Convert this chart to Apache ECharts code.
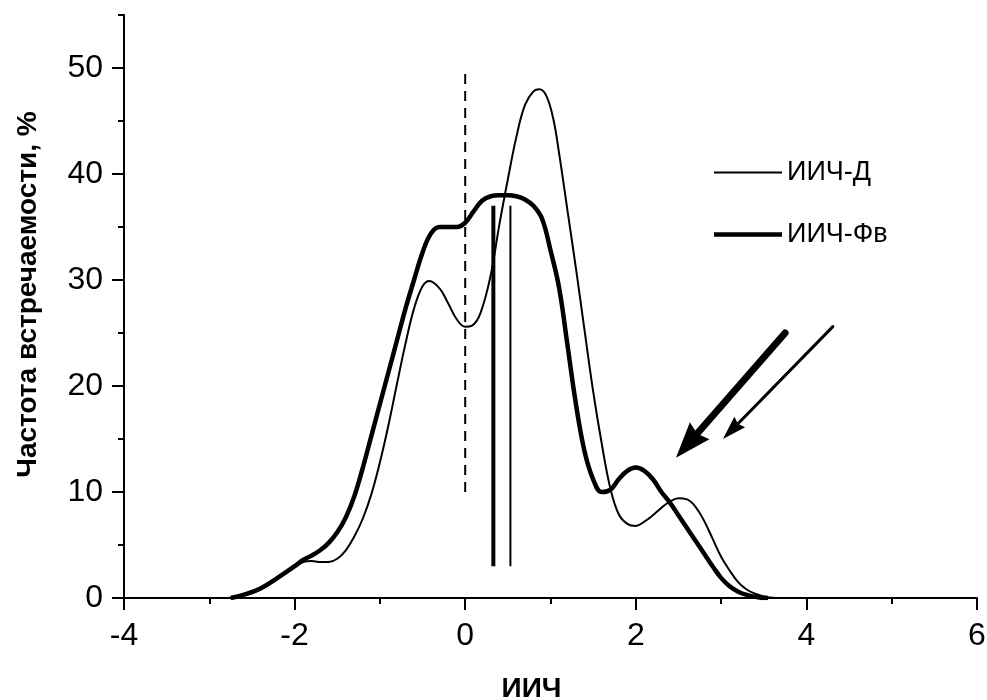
<!DOCTYPE html>
<html>
<head>
<meta charset="utf-8">
<script src="https://cdn.jsdelivr.net/npm/echarts@6/dist/echarts.min.js"></script>
<style>
  html, body { margin: 0; padding: 0; background: #fff; }
  #main { width: 987px; height: 700px; }
</style>
</head>
<body>
<div id="main"></div>
<script>
// ИИЧ-Д, thin curve: [ИИЧ, %]
const seriesD = [
    [-2.8, 0], [-2.6, 0.2], [-2.4, 0.8], [-2.2, 1.8], [-2.0, 2.9], [-1.9, 3.4],
    [-1.8, 3.5], [-1.7, 3.4], [-1.6, 3.4], [-1.5, 3.7], [-1.4, 4.5], [-1.3, 5.8],
    [-1.2, 7.5], [-1.1, 9.8], [-1.0, 12.8], [-0.9, 16.3], [-0.8, 20.2], [-0.7, 24.0],
    [-0.6, 27.3], [-0.5, 29.4], [-0.42, 29.9], [-0.3, 29.2], [-0.2, 27.8], [-0.1, 26.3],
    [0.0, 25.6], [0.08, 25.7], [0.18, 26.9], [0.3, 30.5], [0.4, 35.2], [0.5, 39.5],
    [0.6, 43.5], [0.7, 46.5], [0.8, 47.8], [0.87, 48.0], [0.95, 47.4], [1.03, 45.3],
    [1.1, 42.0], [1.2, 36.5], [1.3, 31.0], [1.4, 25.2], [1.5, 19.5], [1.6, 14.6],
    [1.7, 10.4], [1.8, 7.9], [1.9, 7.0], [2.0, 6.8], [2.1, 7.2], [2.2, 7.8],
    [2.3, 8.5], [2.4, 9.1], [2.5, 9.4], [2.6, 9.3], [2.7, 8.6], [2.8, 7.3],
    [2.9, 5.6], [3.0, 3.9], [3.1, 2.6], [3.2, 1.5], [3.3, 0.8], [3.4, 0.4],
    [3.5, 0.15], [3.65, 0]
];

// ИИЧ-Фв, thick curve
const seriesF = [
    [-2.75, 0], [-2.6, 0.3], [-2.4, 0.9], [-2.2, 1.9], [-2.0, 3.0], [-1.9, 3.6],
    [-1.8, 4.0], [-1.7, 4.5], [-1.6, 5.2], [-1.5, 6.2], [-1.4, 7.6], [-1.3, 9.6],
    [-1.2, 12.3], [-1.1, 15.3], [-1.0, 18.3], [-0.9, 21.3], [-0.8, 24.3], [-0.7, 27.3],
    [-0.6, 30.0], [-0.5, 32.6], [-0.4, 34.4], [-0.3, 35.0], [-0.2, 35.0], [-0.1, 35.0],
    [0.0, 35.4], [0.1, 36.5], [0.2, 37.5], [0.3, 37.9], [0.4, 38.0], [0.5, 38.0],
    [0.6, 37.9], [0.7, 37.6], [0.8, 37.0], [0.9, 35.8], [1.0, 32.8], [1.1, 29.3],
    [1.2, 23.8], [1.3, 18.2], [1.4, 13.8], [1.5, 11.2], [1.6, 10.0], [1.7, 10.2],
    [1.8, 11.2], [1.9, 12.0], [2.0, 12.3], [2.1, 12.0], [2.2, 11.2], [2.3, 10.0],
    [2.4, 9.0], [2.5, 7.8], [2.6, 6.6], [2.7, 5.4], [2.8, 4.2], [2.9, 3.0],
    [3.0, 1.9], [3.1, 1.1], [3.2, 0.6], [3.3, 0.3], [3.45, 0.05], [3.55, 0]
];

// reference lines
const zeroLine = [[0, 10], [0, 50]];
const markF = [[0.33, 3], [0.33, 37]];
const markD = [[0.53, 3], [0.53, 37]];

// arrows: [start, end]
const arrowF = [[3.75, 25.0], [2.61, 14.5]];
const arrowD = [[4.31, 25.6], [3.12, 15.8]];

const xTicks = [-4, -2, 0, 2, 4, 6];
const yLabels = [0, 10, 20, 30, 40, 50];

const font = 'Arial, "Liberation Sans", sans-serif';

function arrowSeries(name, pts, width, size) {
    return {
        name: name,
        type: 'line',
        data: [],
        silent: true,
        markLine: {
            silent: true,
            animation: false,
            label: {show: false},
            symbol: ['none', 'path://M0,0 L10,28 L0,25 L-10,28 Z'],
            symbolSize: size,
            lineStyle: {color: '#000', width: width, type: 'solid', cap: 'round'},
            data: [[{coord: pts[0]}, {coord: pts[1]}]]
        }
    };
}

const option = {
    animation: false,
    backgroundColor: '#fff',
    textStyle: {fontFamily: font, color: '#000'},
    grid: {left: 124, right: 10, top: 15, bottom: 102, outerBoundsMode: 'none', containLabel: false},
    legend: {
        data: [
            {name: 'ИИЧ-Д', icon: 'path://M0,0h68v2h-68z'},
            {name: 'ИИЧ-Фв', icon: 'path://M0,0h68v4.5h-68z'}
        ],
        orient: 'vertical',
        left: 714,
        top: 159,
        padding: 0,
        itemWidth: 68,
        itemHeight: 18,
        itemGap: 35,
        itemStyle: {color: '#000'},
        textStyle: {fontFamily: font, fontSize: 27, color: '#000'}
    },
    xAxis: {
        type: 'value',
        min: -4,
        max: 6,
        interval: 2,
        name: 'ИИЧ',
        nameLocation: 'middle',
        nameGap: 77,
        nameTextStyle: {fontFamily: font, fontSize: 28, fontWeight: 'bold', color: '#000', padding: [0, 38, 0, 0]},
        axisLine: {onZero: false, lineStyle: {color: '#000', width: 2}},
        axisTick: {length: 12, lineStyle: {color: '#000', width: 2}},
        minorTick: {show: true, splitNumber: 2, length: 6, lineStyle: {color: '#000', width: 2}},
        axisLabel: {fontFamily: font, fontSize: 32, color: '#000', margin: 22,
            formatter: v => xTicks.includes(v) ? String(v) : ''},
        splitLine: {show: false}
    },
    yAxis: [{
        type: 'value',
        min: 0,
        max: 55,
        interval: 5,
        name: 'Частота встречаемости, %',
        nameLocation: 'middle',
        nameGap: 82,
        nameRotate: 90,
        nameTextStyle: {fontFamily: font, fontSize: 28, fontWeight: 'bold', color: '#000', padding: [0, 0, 0, 24]},
        axisLine: {show: true, onZero: false, lineStyle: {color: '#000', width: 2}},
        axisTick: {length: 6, lineStyle: {color: '#000', width: 2}},
        axisLabel: {fontFamily: font, fontSize: 32, color: '#000', margin: 21,
            formatter: v => yLabels.includes(v) ? String(v) : ''},
        splitLine: {show: false}
    }, {
        type: 'value',
        min: 0,
        max: 55,
        position: 'left',
        axisLine: {show: false, onZero: false},
        axisTick: {show: true, length: 12, customValues: yLabels, lineStyle: {color: '#000', width: 2}},
        axisLabel: {show: false},
        splitLine: {show: false}
    }],
    series: [
        {
            name: 'ИИЧ-Д',
            type: 'line',
            data: seriesD,
            smooth: 0.4,
            symbol: 'none',
            color: '#000',
            lineStyle: {color: '#000', width: 2}
        },
        {
            name: 'ИИЧ-Фв',
            type: 'line',
            data: seriesF,
            smooth: 0.4,
            symbol: 'none',
            color: '#000',
            lineStyle: {color: '#000', width: 4.5}
        },
        {
            name: 'zero',
            type: 'line',
            data: zeroLine,
            symbol: 'none',
            lineStyle: {color: '#000', width: 2, type: [10, 7]}
        },
        {
            name: 'markF',
            type: 'line',
            data: markF,
            symbol: 'none',
            lineStyle: {color: '#000', width: 4}
        },
        {
            name: 'markD',
            type: 'line',
            data: markD,
            symbol: 'none',
            lineStyle: {color: '#000', width: 2}
        },
        arrowSeries('arrowF', arrowF, 7, [26, 36]),
        arrowSeries('arrowD', arrowD, 3, [15, 24])
    ]
};

const myChart = echarts.init(document.getElementById('main'));
myChart.setOption(option);
</script>
</body>
</html>
